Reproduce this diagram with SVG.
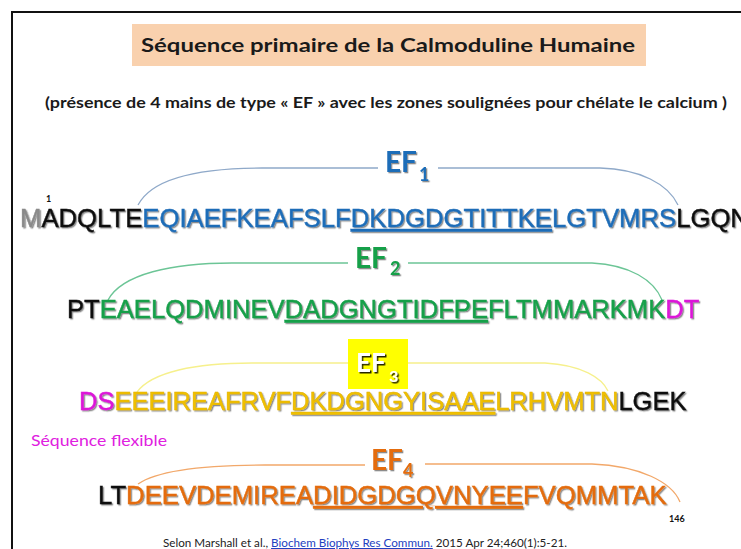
<svg xmlns="http://www.w3.org/2000/svg" width="741" height="549" viewBox="0 0 741 549">
<defs>
<filter id="sh" x="-10%" y="-30%" width="120%" height="160%">
<feDropShadow dx="1.3" dy="1.3" stdDeviation="0.7" flood-color="#000" flood-opacity="0.45"/>
</filter>
<filter id="shd" x="-20%" y="-30%" width="140%" height="160%">
<feDropShadow dx="1.5" dy="1.5" stdDeviation="0.6" flood-color="#000" flood-opacity="0.85"/>
</filter>
<style>
.seq{font-family:"Liberation Sans",Arial,sans-serif;font-size:25.7px;stroke-width:0.45px;filter:url(#sh)}
.ef{font-family:Lato,"Open Sans",sans-serif;font-weight:bold;font-size:28px;filter:url(#sh)}
.efs{font-family:Lato,"Open Sans",sans-serif;font-weight:bold;font-size:18px}
.k{fill:#111;stroke:#111}
.g{fill:#8a8a8a;stroke:#8a8a8a}
.b{fill:#1F6DB8;stroke:#1F6DB8}
.gr{fill:#16A04A;stroke:#16A04A}
.m{fill:#DC16D8;stroke:#DC16D8}
.y{fill:#F0C000;stroke:#E0B000}
.o{fill:#E46C0A;stroke:#E46C0A}
.u{text-decoration:underline}
.arc{fill:none;stroke-width:1.3}
</style>
</defs>
<rect width="741" height="549" fill="#fff"/>
<g id="border" stroke="#111" stroke-width="2" fill="none">
<path d="M12,549 L12,12 L741,12"/>
</g>
<g id="title">
<rect x="132" y="24" width="514" height="42" fill="#F9D1AE"/>
<text x="141" y="52" font-family="Lato,'Open Sans',sans-serif" font-weight="bold" font-size="19.5" fill="#1a1a1a" textLength="494" lengthAdjust="spacingAndGlyphs">Séquence primaire de la Calmoduline Humaine</text>
</g>
<g id="subtitle">
<text x="45" y="108" font-family="Lato,'Open Sans',sans-serif" font-weight="bold" font-size="15" fill="#1a1a1a" textLength="682" lengthAdjust="spacingAndGlyphs">(présence de 4 mains de type « EF » avec les zones soulignées pour chélate le calcium )</text>
</g>
<g id="connectors">
<path class="arc" stroke="#8FA9C9" d="M138,205 C152,178 200,168 262,168 L378,168 M438,168 L600,168 C640,169 668,184 678,205"/>
<path class="arc" stroke="#6CC596" d="M108,300 C122,274 172,263 232,263 L348,263 M408,263 L592,263 C630,265 654,280 662,300"/>
<path class="arc" stroke="#F6F08C" d="M137,392 C152,372 195,363 252,363 L348,363 M408,363 L545,363 C582,365 602,378 608,391"/>
<path class="arc" stroke="#F2A86A" d="M138,484 C158,470 205,465 265,465 L365,465 M425,464 L592,464 C640,466 672,482 680,502"/>
</g>
<g id="ef1">
<text class="ef" x="385" y="172" fill="#1F6DB8">EF</text>
<text class="efs" x="419" y="181" fill="#1F6DB8" filter="url(#sh)">1</text>
</g>
<g id="ef2">
<text class="ef" x="355" y="268" fill="#16A04A">EF</text>
<text class="efs" x="390" y="275" fill="#16A04A" filter="url(#sh)">2</text>
</g>
<g id="ef3">
<rect x="348" y="339" width="60" height="50" fill="#FFFF00"/>
<text x="356" y="372" font-family="Lato,'Open Sans',sans-serif" font-weight="bold" font-size="26" fill="#fff" filter="url(#shd)">EF</text>
<text x="389" y="382" font-family="Lato,'Open Sans',sans-serif" font-weight="bold" font-size="16" fill="#fff" filter="url(#shd)">3</text>
</g>
<g id="ef4">
<text class="ef" x="371" y="470" fill="#E46C0A">EF</text>
<text class="efs" x="403" y="477" fill="#E46C0A" filter="url(#sh)">4</text>
</g>
<g id="row1">
<text x="46" y="202" font-family="Lato,sans-serif" font-weight="bold" font-size="9" fill="#111">1</text>
<text class="seq" x="20" y="227"><tspan class="g">M</tspan><tspan class="k">ADQLTE</tspan><tspan class="b">EQIAEFKEAFSLF</tspan><tspan class="b u">DKDGDGTITTKE</tspan><tspan class="b">LGTVMRS</tspan><tspan class="k">LGQN</tspan></text>
</g>
<g id="row2">
<text class="seq" x="67" y="318" style="font-size:25.6px"><tspan class="k">PT</tspan><tspan class="gr">EAELQDMINEV</tspan><tspan class="gr u">DADGNGTIDFPE</tspan><tspan class="gr">FLTMMARKMK</tspan><tspan class="m">DT</tspan></text>
</g>
<g id="row3">
<text class="seq" x="79" y="410" style="font-size:25.5px"><tspan class="m">DS</tspan><tspan class="y">EEEIREAFRVF</tspan><tspan class="y u">DKDGNGYISAAE</tspan><tspan class="y">LRHVMTN</tspan><tspan class="k">LGEK</tspan></text>
</g>
<g id="flex">
<text x="31" y="446" font-family="Lato,'Open Sans',sans-serif" font-size="15" fill="#E020E0" textLength="136" lengthAdjust="spacingAndGlyphs">Séquence flexible</text>
</g>
<g id="row4">
<text class="seq" x="98" y="504"><tspan class="k">LT</tspan><tspan class="o">DEEVDEMIREA</tspan><tspan class="o u">DIDGDGQVNYEE</tspan><tspan class="o">FVQMMTAK</tspan></text>
</g>
<g id="page-number">
<text x="669" y="522" font-family="Lato,sans-serif" font-weight="bold" font-size="9" fill="#111">146</text>
</g>
<g id="citation">
<text x="163" y="547" font-family="Lato,'Open Sans',sans-serif" font-size="11" fill="#222" textLength="404" lengthAdjust="spacingAndGlyphs">Selon Marshall et al., <tspan fill="#2340C0" text-decoration="underline">Biochem Biophys Res Commun.</tspan> 2015 Apr 24;460(1):5-21.</text>
</g>
</svg>
